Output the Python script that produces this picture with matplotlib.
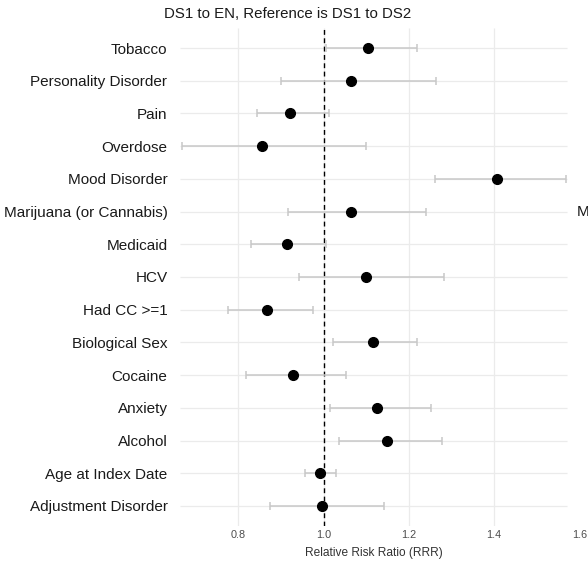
import matplotlib
matplotlib.use('Agg')
import matplotlib.pyplot as plt
import matplotlib.transforms as mtransforms

plt.rcParams['font.family'] = ['Liberation Sans', 'DejaVu Sans']

# top to bottom, as in the picture
labels = ['Tobacco', 'Personality Disorder', 'Pain', 'Overdose', 'Mood Disorder',
          'Marijuana (or Cannabis)', 'Medicaid', 'HCV', 'Had CC >=1', 'Biological Sex',
          'Cocaine', 'Anxiety', 'Alcohol', 'Age at Index Date', 'Adjustment Disorder']
rrr = [1.105, 1.064, 0.922, 0.856, 1.406, 1.064, 0.913, 1.100, 0.866, 1.116,
       0.927, 1.124, 1.148, 0.991, 0.997]
lower = [1.006, 0.900, 0.844, 0.668, 1.261, 0.916, 0.830, 0.943, 0.775, 1.022,
         0.817, 1.014, 1.037, 0.957, 0.873]
upper = [1.218, 1.263, 1.013, 1.099, 1.569, 1.240, 1.006, 1.282, 0.974, 1.220,
         1.052, 1.252, 1.278, 1.028, 1.141]
xticks = [0.8, 1.0, 1.2, 1.4, 1.6]

n = len(labels)
ypos = [n - i for i in range(n)]

fig = plt.figure(figsize=(5.88, 5.62), dpi=100)
W, H = 588, 562
ax = fig.add_axes([180 / W, 36.4 / H, 420.7 / W, 497.2 / H])

x_lo, x_hi = 0.6628, 1.65
panel_end = 1.571

# grid, drawn by hand so it stops where the panel stops
ax.hlines(ypos, x_lo, panel_end, color='#ebebeb', lw=0.9, zorder=0)
ax.vlines([t for t in xticks if t < panel_end], 0.4, n + 0.6, color='#ebebeb', lw=0.9, zorder=0)

ax.axvline(1.0, color='black', ls=(0, (3.5, 2.5)), lw=1.0, zorder=1)

err = [[r - l for r, l in zip(rrr, lower)], [u - r for r, u in zip(rrr, upper)]]
ax.errorbar(rrr, ypos, xerr=err, fmt='none', ecolor='#c8c8c8', elinewidth=1.1,
            capsize=3, capthick=1.1, zorder=2)
ax.plot(rrr, ypos, 'o', color='black', ms=7, zorder=3)

ax.set_xlim(x_lo, x_hi)
ax.set_ylim(0.4, n + 0.6)
ax.set_yticks(ypos)
ax.set_yticklabels(labels, fontsize=11, color='#1a1a1a')
ax.set_xticks(xticks)
ax.set_xticklabels([f'{t:.1f}' for t in xticks], fontsize=7.8, color='#4d4d4d')
ax.tick_params(axis='both', length=0)
ax.tick_params(axis='y', pad=9)
ax.tick_params(axis='x', pad=3.5)
ax.set_xlabel('Relative Risk Ratio (RRR)', fontsize=8.6, color='#333333')
ax.xaxis.set_label_coords((373.5 - 180) / 420.7, -21 / 497.2)
for s in ax.spines.values():
    s.set_visible(False)

fig.text(288 / W, 1 - 14 / H, 'DS1 to EN, Reference is DS1 to DS2', ha='center', va='center',
         fontsize=10.8, color='#1a1a1a')

# the next panel's label that is cut off by the right edge
trans = mtransforms.blended_transform_factory(fig.transFigure, ax.transData)
ax.text(577 / W, ypos[5], labels[5], transform=trans, ha='left', va='center',
        fontsize=11, color='#1a1a1a', clip_on=False)

fig.savefig('out.png', dpi=100)
